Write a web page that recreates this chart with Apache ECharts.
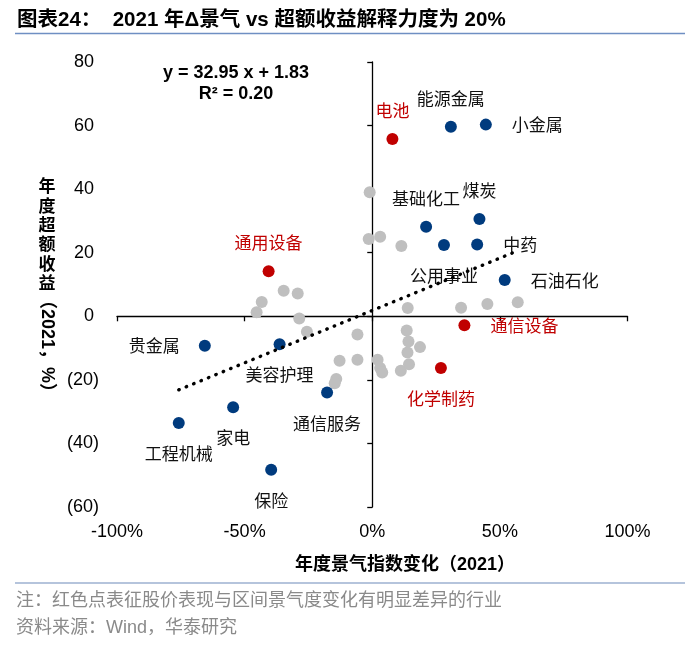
<!DOCTYPE html>
<html>
<head>
<meta charset="utf-8">
<script src="https://cdn.jsdelivr.net/npm/echarts@6/dist/echarts.min.js"></script>
<style>
html,body{margin:0;padding:0;background:#fff;}
#c{width:700px;height:646px;}
</style>
</head>
<body>
<div id="c"></div>
<script>
// ---- data ----
const grayX = [-0.010, -0.014, 0.031, 0.114, -0.347, -0.292, -0.433, -0.453, -0.286, -0.256,
               -0.058, -0.128, -0.058, 0.021, 0.031, 0.039, -0.141, -0.147, 0.112, 0.139,
               0.348, 0.451, 0.570, 0.135, 0.142, 0.187, 0.138, 0.144];
const grayY = [39.0, 24.3, 25.0, 22.1, 8.0, 7.2, 4.5, 1.3, -0.7, -4.9,
               -5.7, -14.0, -13.7, -13.7, -16.3, -17.7, -19.7, -21.1, -17.1, 2.6,
               2.7, 3.9, 4.4, -4.5, -7.9, -9.7, -11.4, -15.1];

const blueNames = ['能源金属', '小金属', '基础化工', '煤炭', '公用事业', '中药', '石油石化',
                   '贵金属', '美容护理', '通信服务', '家电', '工程机械', '保险'];
const blueX = [0.308, 0.445, 0.211, 0.420, 0.281, 0.411, 0.519,
               -0.656, -0.363, -0.177, -0.545, -0.758, -0.396];
const blueY = [59.6, 60.3, 28.2, 30.6, 22.4, 22.6, 11.4,
               -9.3, -8.8, -24.0, -28.6, -33.6, -48.3];

const redNames = ['电池', '通用设备', '通信设备', '化学制药'];
const redX = [0.079, -0.406, 0.361, 0.269];
const redY = [55.8, 14.2, -2.8, -16.3];

const trendSlope = 32.95;
const trendIntercept = 1.83;
const trendText = ['y = 32.95 x + 1.83', 'R² = 0.20'];

const xTicks = [-1, -0.5, 0, 0.5, 1];
const yTicks = [-60, -40, -20, 0, 20, 40, 60, 80];

const titleText = '图表24：  2021 年Δ景气 vs 超额收益解释力度为 20%';
const xTitle = '年度景气指数变化（2021）';
const yTitleCJK = '年度超额收益';
const yTitleTail = '（2021，%）';
const notes = ['注：红色点表征股价表现与区间景气度变化有明显差异的行业', '资料来源：Wind，华泰研究'];

// ---- label placement (style, not data) ----
const labelPos = {
  '能源金属': 'top', '小金属': 'right', '基础化工': 'top', '煤炭': 'top', '公用事业': 'bottom',
  '中药': 'right', '石油石化': 'right', '贵金属': 'left', '美容护理': 'bottom', '通信服务': 'bottom',
  '家电': 'bottom', '工程机械': 'bottom', '保险': 'bottom',
  '电池': 'top', '通用设备': 'top', '通信设备': 'right', '化学制药': 'bottom'
};
const labelDist = { top: 14, bottom: 16, right: 20, left: 19 };

const FONT = '"Liberation Sans", Arial, "Noto Sans CJK SC", sans-serif';
const CJK = '"Noto Sans CJK SC", sans-serif';
const BLUE = '#003B7E', RED = '#C00000', GRAY = '#BFBFBF';

function pts(xs, ys, names, color, labelColor) {
  return xs.map((x, i) => {
    const d = { value: [x, ys[i]] };
    if (names) {
      const p = labelPos[names[i]];
      d.name = names[i];
      d.label = { show: true, position: p, distance: labelDist[p], formatter: names[i],
                  color: labelColor, fontSize: 17, fontFamily: CJK };
    }
    return d;
  });
}

const allX = grayX.concat(blueX, redX);
const tx0 = Math.min.apply(null, allX), tx1 = Math.max.apply(null, allX);
const trendData = [[tx0, trendSlope * tx0 + trendIntercept], [tx1, trendSlope * tx1 + trendIntercept]];

const chart = echarts.init(document.getElementById('c'), null, { renderer: 'canvas' });
const xMin = xTicks[0], xMax = xTicks[xTicks.length - 1], xInt = xTicks[1] - xTicks[0];
const yMin = yTicks[0], yMax = yTicks[yTicks.length - 1], yInt = yTicks[1] - yTicks[0];

chart.setOption({
  animation: false,
  backgroundColor: '#fff',
  grid: { left: 117, right: 72.5, top: 62, bottom: 139, containLabel: false, outerBoundsMode: 'none' },
  xAxis: [
    { type: 'value', min: xMin, max: xMax, interval: xInt, position: 'bottom',
      axisLine: { show: true, onZero: true, lineStyle: { color: '#000', width: 1.3 } },
      axisTick: { show: true, length: 5, lineStyle: { color: '#000', width: 1.3 } },
      axisLabel: { show: false }, splitLine: { show: false } },
    { type: 'value', min: xMin, max: xMax, interval: xInt, position: 'bottom',
      axisLine: { show: false, onZero: false }, axisTick: { show: false }, splitLine: { show: false },
      axisLabel: { show: true, margin: 16, color: '#000', fontSize: 18, fontFamily: FONT,
        formatter: v => Math.round(v * 100) + '%' } }
  ],
  yAxis: [
    { type: 'value', min: yMin, max: yMax, interval: yInt, position: 'left',
      axisLine: { show: true, onZero: true, lineStyle: { color: '#000', width: 1.3 } },
      axisTick: { show: true, length: 5, lineStyle: { color: '#000', width: 1.3 } },
      axisLabel: { show: false }, splitLine: { show: false } },
    { type: 'value', min: yMin, max: yMax, interval: yInt, position: 'left',
      axisLine: { show: false, onZero: false }, axisTick: { show: false }, splitLine: { show: false },
      axisLabel: { show: true, margin: 18, color: '#000', fontSize: 18, fontFamily: FONT,
        formatter: v => v < 0 ? '(' + (-v) + ')' : '{p|' + v + '}',
        rich: { p: { padding: [0, 5, 0, 0], color: '#000', fontSize: 18, fontFamily: FONT } } } }
  ],
  series: [
    { type: 'scatter', name: 'gray', xAxisIndex: 0, yAxisIndex: 0, symbolSize: 12, z: 2,
      itemStyle: { color: GRAY, opacity: 1 }, data: pts(grayX, grayY, null, GRAY) },
    { type: 'scatter', name: 'blue', xAxisIndex: 0, yAxisIndex: 0, symbolSize: 12, z: 3,
      itemStyle: { color: BLUE, opacity: 1 }, data: pts(blueX, blueY, blueNames, BLUE, '#111') },
    { type: 'scatter', name: 'red', xAxisIndex: 0, yAxisIndex: 0, symbolSize: 12, z: 3,
      itemStyle: { color: RED, opacity: 1 }, data: pts(redX, redY, redNames, RED, RED) },
    { type: 'line', name: 'trend', xAxisIndex: 0, yAxisIndex: 0, z: 4, symbol: 'none', silent: true,
      lineStyle: { color: '#000', width: 3.4, type: [0.5, 7.5], cap: 'round' }, data: trendData }
  ],
  graphic: [
    { type: 'text', x: 17, y: 20, style: { text: titleText, fill: '#000', verticalAlign: 'middle',
        font: 'bold 20.5px ' + FONT } },
    { type: 'line', shape: { x1: 15, y1: 33.5, x2: 685, y2: 33.5 },
      style: { stroke: '#6F8FC3', lineWidth: 1.6 } },
    { type: 'text', x: 236, y: 73, style: { text: trendText[0], fill: '#000', align: 'center',
        verticalAlign: 'middle', font: 'bold 18px ' + FONT } },
    { type: 'text', x: 236, y: 94, style: { text: trendText[1], fill: '#000', align: 'center',
        verticalAlign: 'middle', font: 'bold 18px ' + FONT } },
    { type: 'text', x: 47, y: 176, style: { text: yTitleCJK.split('').join('\n'), fill: '#000',
        align: 'center', verticalAlign: 'top', lineHeight: 19.4, font: 'bold 17px ' + CJK } },
    { type: 'text', x: 47, y: 346, rotation: -Math.PI / 2, style: { text: yTitleTail, fill: '#000',
        align: 'center', verticalAlign: 'middle', font: 'bold 18px ' + FONT } },
    { type: 'text', x: 405, y: 565, style: { text: xTitle, fill: '#000', align: 'center',
        verticalAlign: 'middle', font: 'bold 18px ' + FONT } },
    { type: 'line', shape: { x1: 15, y1: 583, x2: 685, y2: 583 },
      style: { stroke: '#9DB0D0', lineWidth: 1.6 } },
    { type: 'text', x: 16, y: 599, style: { text: notes[0], fill: '#8A8A8A', verticalAlign: 'middle',
        font: '18px ' + CJK } },
    { type: 'text', x: 16, y: 628, style: { text: notes[1], fill: '#8A8A8A', verticalAlign: 'middle',
        font: '18px ' + FONT } }
  ]
});
</script>
</body>
</html>
